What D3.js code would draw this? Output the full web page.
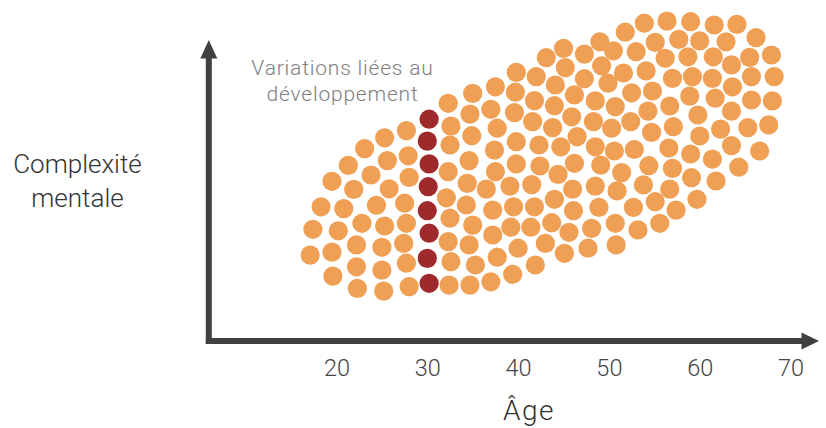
<!DOCTYPE html>
<html><head><meta charset="utf-8">
<script src="https://cdn.jsdelivr.net/npm/d3@7"></script>
<style>body{margin:0;background:#fff} svg{display:block}</style>
</head><body><svg id="c" width="826" height="428"></svg>
<script>
// ---- data ----
const orangeAge = [
32.3,32.6,27.7,25.3,23.1,32.5,27.9,25.6,21.3,23.8,
32.3,28.0,19.5,25.8,21.9,32.1,18.3,20.8,24.4,27.5,
32.5,17.4,20.2,22.8,25.3,27.7,32.3,17.1,19.5,22.2,
25.0,27.4,32.6,19.6,22.2,25.0,27.7,22.3,25.2,28.0,
32.4,
45.0,49.0,47.3,50.5,43.1,45.2,49.2,39.8,42.0,47.3,
37.5,35.0,39.7,44.1,46.2,49.9,41.8,48.5,50.7,37.0,
34.7,39.6,44.0,45.9,41.6,48.3,50.3,37.7,34.9,43.8,
46.5,39.8,42.3,44.7,48.5,50.6,37.4,34.6,39.8,42.4,
46.2,49.1,44.4,51.4,37.5,34.4,36.5,39.1,41.5,46.0,
48.5,50.9,
34.3,37.2,39.5,41.8,44.0,46.1,48.9,35.0,37.2,39.2,
41.4,43.7,45.6,48.1,50.7,34.6,37.7,40.0,43.0,45.1,
47.7,50.8,35.3,39.4,41.9,37.0,34.7,
53.9,56.4,59.0,61.6,64.1,51.8,55.1,57.7,60.0,62.9,
66.2,53.0,56.2,58.7,61.5,63.5,65.5,67.9,51.6,54.1,
57.0,59.2,61.4,63.6,65.7,68.2,52.5,54.8,58.9,61.7,
65.7,68.0,56.7,54.3,59.8,63.5,52.4,57.1,54.7,60.0,
62.3,65.3,67.6,52.8,56.6,59.0,61.4,63.5,66.6,54.4,
57.0,59.1,61.8,64.3,53.8,56.7,52.7,55.1,57.4,59.7,
53.2,55.6
];
const orangeComplexity = [
78.9,71.3,69.8,67.4,63.8,65.0,61.4,59.8,58.2,55.0,
56.1,54.2,52.9,50.4,50.2,47.4,44.4,43.8,44.9,45.6,
40.6,36.9,36.4,38.9,38.0,38.9,32.8,28.3,29.3,31.7,
30.9,32.2,26.1,21.3,24.4,23.3,25.6,17.2,16.3,17.8,
18.3,
97.2,99.4,95.3,96.4,94.1,90.8,91.4,89.2,87.8,87.1,
84.4,82.2,82.6,85.0,81.7,85.6,79.8,79.7,77.8,76.9,
75.3,75.8,78.1,74.4,72.8,72.8,70.6,70.6,68.1,70.8,
67.8,66.1,65.0,64.4,64.4,63.0,63.3,59.8,58.7,58.0,
58.9,58.3,55.2,55.8,56.1,52.2,50.3,51.3,51.8,50.3,
51.3,49.7,
45.0,43.3,44.4,44.4,46.9,43.1,44.2,38.3,35.0,37.6,
37.6,39.1,35.9,37.2,38.9,31.7,27.6,30.6,32.2,28.9,
30.6,31.7,25.0,21.9,25.0,19.4,18.3,
105.6,106.3,106.1,105.0,105.2,102.6,99.2,100.2,99.7,99.4,
100.8,96.1,93.9,94.4,94.4,91.7,94.2,95.0,89.0,89.7,
87.2,87.8,87.2,84.4,87.8,87.8,82.4,83.0,81.3,80.6,
80.0,79.7,78.0,76.3,75.0,76.3,72.8,71.1,69.2,68.0,
70.3,70.8,71.7,63.5,64.0,62.0,60.3,64.8,63.0,58.1,
57.2,54.1,53.0,57.6,51.7,50.3,44.2,46.1,43.3,46.9,
36.7,38.9
];
const redAge = [30.2,30.0,30.2,30.1,30.0,30.2,30.0,30.2];
const redComplexity = [73.6,66.3,58.7,51.1,43.1,35.6,27.2,18.9];
const xTicks = [20,30,40,50,60,70];
const xLabel = "Âge";
const yLabelLines = ["Complexité","mentale"];
const noteLines = ["Variations liées au","développement"];

// ---- chart ----
const svg = d3.select("#c");
const FONT = "Roboto, 'Liberation Sans', Arial, sans-serif";
const x = d3.scaleLinear().domain([20,70]).range([336.5,790.5]);
const y = d3.scaleLinear().domain([0,110]).range([340,10]);
const R = 9.6;

const orange = orangeAge.map((a,i)=>({a, c: orangeComplexity[i]}));
const red = redAge.map((a,i)=>({a, c: redComplexity[i]}));

svg.append("g").selectAll("circle").data(orange).join("circle")
  .attr("cx", d=>x(d.a)).attr("cy", d=>y(d.c)).attr("r", R)
  .attr("fill", "#F0A055");
svg.append("g").selectAll("circle").data(red).join("circle")
  .attr("cx", d=>x(d.a)).attr("cy", d=>y(d.c)).attr("r", R)
  .attr("fill", "#9E2A2B");

// axes lines with arrowheads
const axisColor = "#404040";
const ax = 208.8, ay = 341;
svg.append("line").attr("x1", ax).attr("y1", ay+3).attr("x2", ax).attr("y2", 56)
  .attr("stroke", axisColor).attr("stroke-width", 6);
svg.append("path").attr("d", `M${ax},40 L${ax+8.5},58.5 L${ax-8.5},58.5 Z`).attr("fill", axisColor);
svg.append("line").attr("x1", ax-3).attr("y1", ay).attr("x2", 804).attr("y2", ay)
  .attr("stroke", axisColor).attr("stroke-width", 6);
svg.append("path").attr("d", `M819,${ay} L801.5,${ay-8.5} L801.5,${ay+8.5} Z`).attr("fill", axisColor);

// tick labels via d3 axis
const gx = svg.append("g").attr("transform", `translate(0,${ay})`)
  .call(d3.axisBottom(x).tickValues(xTicks).tickSize(0).tickPadding(0).tickFormat(d3.format("d")));
gx.select(".domain").remove();
gx.selectAll("text").attr("dy", null).attr("y", 34.5)
  .attr("font-family", FONT).attr("font-weight", 300).attr("font-size", 23.5).attr("fill", "#444");

svg.append("text").attr("x", 529).attr("y", 420).attr("text-anchor", "middle")
  .attr("font-family", FONT).attr("font-weight", 300).attr("font-size", 28)
  .attr("letter-spacing", 1.5).attr("fill", "#333")
  .text(xLabel);

svg.append("text").attr("text-anchor", "middle")
  .attr("font-family", FONT).attr("font-weight", 300).attr("font-size", 26).attr("fill", "#333")
  .selectAll("tspan").data(yLabelLines).join("tspan")
  .attr("x", 77.5).attr("y", (d,i)=>173 + i*33.5).text(d=>d);

svg.append("text").attr("text-anchor", "middle")
  .attr("font-family", FONT).attr("font-weight", 300).attr("font-size", 21)
  .attr("letter-spacing", 0.8).attr("fill", "#808080")
  .selectAll("tspan").data(noteLines).join("tspan")
  .attr("x", 342.5).attr("y", (d,i)=>75 + i*25.5).text(d=>d);
</script>
</body></html>
